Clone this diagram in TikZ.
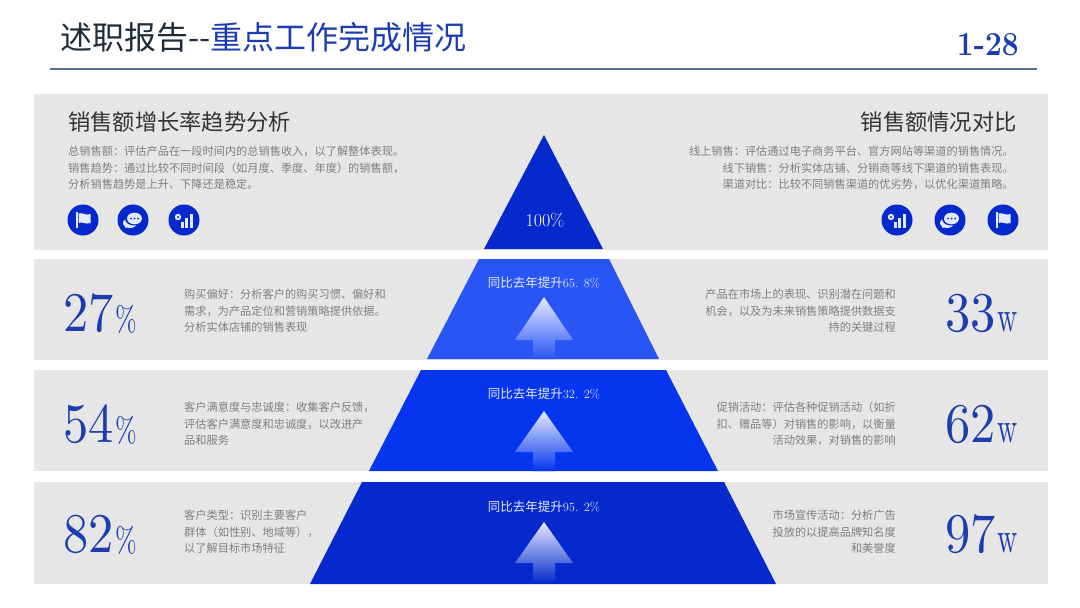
\documentclass[tikz,border=0pt]{standalone}
\usepackage{graphicx}
\usepackage{fontspec}
\newfontfamily\cjk{Noto Sans CJK SC}
\definecolor{panelgray}{HTML}{E6E6E6}
\definecolor{bodygray}{HTML}{7F7F7F}
\definecolor{titledark}{HTML}{1F2D3A}
\definecolor{numblue}{HTML}{1C3DB0}
\definecolor{rulegray}{HTML}{5A6F8C}
\definecolor{tierdark}{HTML}{0529CC}
\definecolor{tierlight}{HTML}{2A55F5}
\definecolor{tiermid}{HTML}{0535EE}
\definecolor{glyphwhite}{HTML}{E4EAFF}
\newcommand{\zc}{\char"FF1A\relax}
\newcommand{\zd}{\char"FF0C\relax}
\newcommand{\zl}{\char"FF08\relax}
\newcommand{\zr}{\char"FF09\relax}
\newcommand{\bignum}[2]{\scalebox{5.05}[5.6]{\fontsize{10}{12}\selectfont #1}\hspace{1.5pt}#2}
\newcommand{\pctunit}{\scalebox{2.6}[3.5]{\fontsize{10}{12}\selectfont\%}}
\newcommand{\wunit}{\scalebox{2.8}[4.4]{\fontsize{10}{12}\selectfont w}}
\tikzset{
    bodyleft/.style={anchor=west, inner sep=0pt, align=left, text=bodygray, font=\cjk\fontsize{11.2}{16.5}\selectfont},
    bodyright/.style={anchor=east, inner sep=0pt, align=right, text=bodygray, font=\cjk\fontsize{11.2}{16.5}\selectfont},
    headline/.style={inner sep=0pt, text=black!80, font=\cjk\fontsize{22.3}{26}\selectfont},
    numleft/.style={anchor=base west, inner sep=0pt, text=numblue},
    numright/.style={anchor=base east, inner sep=0pt, text=numblue},
    risetext/.style={inner sep=0pt, text=glyphwhite, font=\fontsize{12.5}{14}\selectfont},
    iconbase/.style={fill=tierdark},
    iconglyph/.style={fill=glyphwhite},
    flagicon/.pic={
        \fill[iconbase] (0,0) circle (15.5);
        \fill[iconglyph] (-7,-8) rectangle (-5.5,8);
        \fill[iconglyph] (-4.5,-6.5) .. controls (-1,-8) and (3,-4) .. (7.5,-6) -- (7.5,3) .. controls (3,5) and (-1,1) .. (-4.5,3) -- cycle;
    },
    chaticon/.pic={
        \fill[iconbase] (0,0) circle (15.5);
        \fill[iconglyph] (-3,3) ellipse (7 and 5);
        \fill[iconglyph] (-8,8) -- (-7,3) -- (-3,6) -- cycle;
        \fill[iconbase] (1,-1.5) ellipse (9 and 7);
        \fill[iconglyph] (1.5,-1.5) ellipse (7.5 and 5.8);
        \foreach \d in {-2,1.5,5}
            \fill[tierdark] (\d,-1.5) circle (1);
    },
    charticon/.pic={
        \fill[iconbase] (0,0) circle (15.5);
        \fill[iconglyph] (-6,-3) circle (3.2);
        \fill[iconbase] (-6,-3) circle (1.1);
        \fill[iconglyph] (-3.5,2) rectangle (-0.5,8);
        \fill[iconglyph] (1,-2) rectangle (4,8);
        \fill[iconglyph] (5.5,-6.5) rectangle (8.5,8);
    }
}
\begin{document}
\begin{tikzpicture}[x=1pt, y=-1pt]
    \useasboundingbox (0,0) rectangle (1080,608);

    \node[anchor=base west, inner sep=0pt, font=\cjk\fontsize{32}{36}\selectfont] (title) at (60,49) {\textcolor{titledark}{述职报告--}\textcolor{numblue}{重点工作完成情况}};
    \node[anchor=base east, inner sep=0pt, text=numblue, font=\bfseries\fontsize{30}{32}\selectfont] (pageno) at (1019,55) {\scalebox{1}[1.12]{1-28}};
    \draw[rulegray, line width=1.2pt] (50,69) -- (1037,69);

    \fill[panelgray] (34,94) rectangle (1048,250);
    \fill[panelgray] (34,259) rectangle (1048,360);
    \fill[panelgray] (34,370) rectangle (1048,471);
    \fill[panelgray] (34,482) rectangle (1048,584);

    \path (544,135) coordinate (T);
    \fill[tierdark] (T) -- (603,249) -- (484,249) -- cycle;
    \fill[tierlight] (479,259) -- (609,259) -- (659,359) -- (427,359) -- cycle;
    \fill[tiermid] (421,370) -- (666,370) -- (718,471) -- (369,471) -- cycle;
    \fill[tierdark] (362,482) -- (724,482) -- (776,584) -- (310,584) -- cycle;

    \foreach \a/\b/\c/\col in {297/340/359/tierlight, 411/452/471/tiermid, 522/563/583/tierdark}
        \shade[top color=glyphwhite, bottom color=\col, middle color=glyphwhite!50!\col]
            (544,\a) -- (573,\b) -- (555,\b) -- (555,\c) -- (533,\c) -- (533,\b) -- (515,\b) -- cycle;

    \node[inner sep=0pt, text=white, font=\fontsize{18}{20}\selectfont] (top) at (545,220) {100\%};
    \node[risetext] (riseA) at (544,283) {{\cjk 同比去年提升}65. 8\%};
    \node[risetext] (riseB) at (544,394) {{\cjk 同比去年提升}32. 2\%};
    \node[risetext] (riseC) at (544,507) {{\cjk 同比去年提升}95. 2\%};

    \node[headline, anchor=west] (headL) at (68,122) {销售额增长率趋势分析};
    \node[headline, anchor=east] (headR) at (1017,122) {销售额情况对比};
    \node[bodyleft] (textL) at (68,168) {总销售额\zc 评估产品在一段时间内的总销售收入\zd 以了解整体表现。\\销售趋势\zc 通过比较不同时间段\zl 如月度、季度、年度\zr 的销售额\zd\\分析销售趋势是上升、下降还是稳定。};
    \node[bodyright] (textR) at (1014,168) {线上销售\zc 评估通过电子商务平台、官方网站等渠道的销售情况。\\线下销售\zc 分析实体店铺、分销商等线下渠道的销售表现。\\渠道对比\zc 比较不同销售渠道的优劣势\zd 以优化渠道策略。};

    \pic at (83,220) {flagicon};
    \pic at (133,220) {chaticon};
    \pic at (184,220) {charticon};
    \pic at (897,220) {charticon};
    \pic at (950,220) {chaticon};
    \pic at (1003,220) {flagicon};

    \node[numleft] (numA) at (63.5,331) {\bignum{27}{\pctunit}};
    \node[numleft] (numB) at (63.5,442) {\bignum{54}{\pctunit}};
    \node[numleft] (numC) at (63.5,552) {\bignum{82}{\pctunit}};
    \node[numright] (numD) at (1018,331) {\bignum{33}{\wunit}};
    \node[numright] (numE) at (1018,442) {\bignum{62}{\wunit}};
    \node[numright] (numF) at (1018,552) {\bignum{97}{\wunit}};

    \node[bodyleft] (textA) at (184,311) {购买偏好\zc 分析客户的购买习惯、偏好和\\需求\zd 为产品定位和营销策略提供依据。\\分析实体店铺的销售表现};
    \node[bodyleft] (textB) at (184,424) {客户满意度与忠诚度\zc 收集客户反馈\zd\\评估客户满意度和忠诚度\zd 以改进产\\品和服务};
    \node[bodyleft] (textC) at (184,532) {客户类型\zc 识别主要客户\\群体\zl 如性别、地域等\zr\zd\\以了解目标市场特征};
    \node[bodyright] (textD) at (896,311) {产品在市场上的表现、识别潜在问题和\\机会\zd 以及为未来销售策略提供数据支\\持的关键过程};
    \node[bodyright] (textE) at (896,424) {促销活动\zc 评估各种促销活动\zl 如折\\扣、赠品等\zr 对销售的影响\zd 以衡量\\活动效果\zd 对销售的影响};
    \node[bodyright] (textF) at (896,532) {市场宣传活动\zc 分析广告\\投放的以提高品牌知名度\\和美誉度};
\end{tikzpicture}
\end{document}
